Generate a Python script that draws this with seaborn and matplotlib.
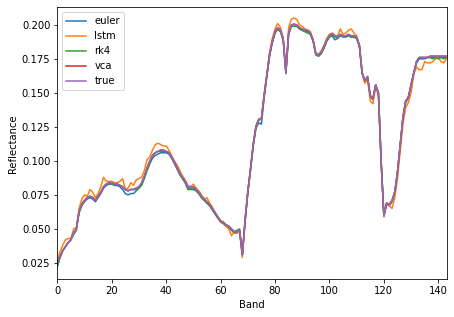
# Endmember spectra: euler / lstm / rk4 / vca vs true

import numpy as np
import matplotlib
matplotlib.use('Agg')
import matplotlib.pyplot as plt
import seaborn as sns

true = [0.025, 0.030, 0.034, 0.037, 0.040, 0.042, 0.047, 0.050, 0.063, 0.068,
        0.071, 0.073, 0.074, 0.073, 0.071, 0.074, 0.077, 0.081, 0.083, 0.084,
        0.084, 0.083, 0.083, 0.082, 0.081, 0.079, 0.078, 0.079, 0.079, 0.080,
        0.081, 0.084, 0.089, 0.095, 0.100, 0.104, 0.106, 0.107, 0.108, 0.108,
        0.107, 0.106, 0.103, 0.099, 0.095, 0.091, 0.088, 0.085, 0.081, 0.081,
        0.081, 0.079, 0.077, 0.074, 0.072, 0.070, 0.068, 0.065, 0.062, 0.059,
        0.056, 0.055, 0.053, 0.052, 0.050, 0.048, 0.048, 0.049, 0.031, 0.056,
        0.077, 0.094, 0.112, 0.125, 0.130, 0.131, 0.148, 0.163, 0.178, 0.188,
        0.195, 0.198, 0.196, 0.190, 0.165, 0.194, 0.200, 0.2005, 0.200, 0.198,
        0.197, 0.196, 0.196, 0.194, 0.189, 0.179, 0.178, 0.180, 0.184, 0.189,
        0.192, 0.1935, 0.192, 0.191, 0.193, 0.192, 0.192, 0.193, 0.192, 0.192,
        0.191, 0.185, 0.165, 0.159, 0.162, 0.148, 0.146, 0.156, 0.150, 0.100,
        0.060, 0.069, 0.068, 0.071, 0.077, 0.092, 0.112, 0.132, 0.144, 0.147,
        0.156, 0.165, 0.173, 0.176, 0.176, 0.176, 0.176, 0.177, 0.177, 0.177,
        0.177, 0.177, 0.177, 0.177]

vca = [0.025, 0.030, 0.034, 0.037, 0.040, 0.042, 0.047, 0.050, 0.063, 0.068,
       0.071, 0.073, 0.074, 0.073, 0.071, 0.074, 0.077, 0.081, 0.083, 0.084,
       0.084, 0.083, 0.083, 0.082, 0.081, 0.079, 0.078, 0.079, 0.079, 0.080,
       0.081, 0.084, 0.089, 0.095, 0.100, 0.104, 0.106, 0.107, 0.108, 0.108,
       0.107, 0.106, 0.103, 0.099, 0.095, 0.091, 0.088, 0.085, 0.081, 0.081,
       0.081, 0.079, 0.077, 0.074, 0.072, 0.070, 0.068, 0.065, 0.062, 0.059,
       0.056, 0.055, 0.053, 0.052, 0.050, 0.048, 0.048, 0.049, 0.031, 0.056,
       0.077, 0.094, 0.112, 0.125, 0.130, 0.131, 0.148, 0.163, 0.178, 0.188,
       0.195, 0.198, 0.196, 0.190, 0.165, 0.194, 0.200, 0.2005, 0.200, 0.198,
       0.197, 0.196, 0.196, 0.194, 0.189, 0.179, 0.178, 0.180, 0.184, 0.189,
       0.192, 0.1935, 0.192, 0.191, 0.193, 0.192, 0.192, 0.193, 0.192, 0.192,
       0.191, 0.185, 0.165, 0.159, 0.162, 0.148, 0.146, 0.156, 0.150, 0.100,
       0.060, 0.069, 0.068, 0.071, 0.077, 0.092, 0.112, 0.132, 0.144, 0.147,
       0.156, 0.165, 0.173, 0.176, 0.176, 0.176, 0.176, 0.177, 0.177, 0.177,
       0.177, 0.177, 0.177, 0.177]

euler = [0.023, 0.029, 0.034, 0.037, 0.040, 0.042, 0.046, 0.049, 0.062, 0.067,
         0.070, 0.072, 0.073, 0.072, 0.070, 0.073, 0.076, 0.080, 0.082, 0.083,
         0.083, 0.082, 0.082, 0.081, 0.079, 0.076, 0.075, 0.076, 0.076, 0.078,
         0.080, 0.083, 0.088, 0.093, 0.098, 0.102, 0.104, 0.105, 0.106, 0.106,
         0.106, 0.105, 0.102, 0.098, 0.094, 0.090, 0.087, 0.084, 0.079, 0.079,
         0.079, 0.078, 0.076, 0.073, 0.071, 0.069, 0.067, 0.064, 0.061, 0.058,
         0.055, 0.054, 0.052, 0.051, 0.049, 0.047, 0.047, 0.048, 0.031, 0.055,
         0.076, 0.093, 0.111, 0.124, 0.128, 0.127, 0.146, 0.162, 0.177, 0.187,
         0.194, 0.197, 0.195, 0.189, 0.165, 0.193, 0.199, 0.199, 0.199, 0.197,
         0.196, 0.195, 0.195, 0.193, 0.188, 0.178, 0.177, 0.179, 0.183, 0.188,
         0.191, 0.192, 0.189, 0.190, 0.192, 0.191, 0.191, 0.192, 0.191, 0.191,
         0.190, 0.184, 0.164, 0.158, 0.161, 0.147, 0.145, 0.155, 0.149, 0.099,
         0.059, 0.068, 0.067, 0.070, 0.076, 0.091, 0.111, 0.131, 0.143, 0.146,
         0.155, 0.164, 0.172, 0.175, 0.175, 0.175, 0.176, 0.176, 0.176, 0.176,
         0.176, 0.176, 0.176, 0.176]

lstm = [0.027, 0.033, 0.038, 0.042, 0.043, 0.043, 0.050, 0.051, 0.065, 0.072,
        0.075, 0.074, 0.079, 0.077, 0.073, 0.076, 0.081, 0.088, 0.085, 0.085,
        0.085, 0.084, 0.084, 0.085, 0.087, 0.079, 0.080, 0.084, 0.082, 0.086,
        0.087, 0.088, 0.093, 0.101, 0.103, 0.108, 0.112, 0.113, 0.112, 0.111,
        0.111, 0.108, 0.104, 0.100, 0.097, 0.093, 0.089, 0.086, 0.082, 0.081,
        0.083, 0.080, 0.078, 0.075, 0.072, 0.073, 0.069, 0.066, 0.062, 0.058,
        0.055, 0.054, 0.052, 0.050, 0.045, 0.048, 0.047, 0.048, 0.029, 0.058,
        0.078, 0.095, 0.113, 0.126, 0.131, 0.131, 0.149, 0.164, 0.180, 0.190,
        0.197, 0.201, 0.198, 0.190, 0.165, 0.198, 0.204, 0.205, 0.204, 0.200,
        0.199, 0.197, 0.196, 0.195, 0.189, 0.179, 0.178, 0.181, 0.185, 0.190,
        0.193, 0.194, 0.192, 0.192, 0.197, 0.193, 0.194, 0.196, 0.197, 0.194,
        0.192, 0.185, 0.165, 0.157, 0.160, 0.144, 0.142, 0.155, 0.148, 0.098,
        0.059, 0.069, 0.067, 0.065, 0.073, 0.087, 0.107, 0.127, 0.139, 0.143,
        0.150, 0.164, 0.169, 0.167, 0.167, 0.173, 0.172, 0.172, 0.173, 0.175,
        0.176, 0.173, 0.172, 0.175]

rk4 = [0.022, 0.029, 0.034, 0.037, 0.040, 0.042, 0.047, 0.050, 0.062, 0.068,
       0.071, 0.073, 0.074, 0.073, 0.071, 0.074, 0.077, 0.081, 0.083, 0.083,
       0.083, 0.083, 0.083, 0.082, 0.081, 0.079, 0.078, 0.079, 0.079, 0.079,
       0.080, 0.082, 0.087, 0.093, 0.099, 0.104, 0.106, 0.107, 0.107, 0.107,
       0.107, 0.106, 0.103, 0.099, 0.095, 0.090, 0.087, 0.084, 0.080, 0.080,
       0.080, 0.078, 0.076, 0.073, 0.071, 0.069, 0.067, 0.064, 0.061, 0.058,
       0.056, 0.054, 0.053, 0.052, 0.050, 0.048, 0.049, 0.050, 0.031, 0.056,
       0.077, 0.094, 0.112, 0.125, 0.130, 0.131, 0.148, 0.163, 0.178, 0.187,
       0.194, 0.197, 0.195, 0.189, 0.164, 0.193, 0.199, 0.199, 0.199, 0.197,
       0.196, 0.195, 0.194, 0.193, 0.188, 0.178, 0.177, 0.179, 0.183, 0.188,
       0.191, 0.193, 0.191, 0.191, 0.192, 0.192, 0.192, 0.192, 0.191, 0.191,
       0.190, 0.185, 0.165, 0.159, 0.162, 0.148, 0.146, 0.156, 0.150, 0.100,
       0.060, 0.069, 0.068, 0.071, 0.077, 0.092, 0.112, 0.132, 0.144, 0.147,
       0.156, 0.165, 0.173, 0.176, 0.176, 0.176, 0.176, 0.176, 0.175, 0.176,
       0.175, 0.176, 0.175, 0.176]

series = {'euler': euler, 'lstm': lstm, 'rk4': rk4, 'vca': vca, 'true': true}
band = np.arange(len(true))

fig, ax = plt.subplots(figsize=(454 / 72, 317 / 72), dpi=72)
fig.subplots_adjust(left=0.1262, right=0.9846, top=0.977, bottom=0.119)

colors = sns.color_palette('tab10')
for i, (name, vals) in enumerate(series.items()):
    sns.lineplot(x=band, y=vals, label=name, color=colors[i], ax=ax)

ax.set_xlim(0, 143.2)
ax.set_ylim(0.013, 0.2129)
ax.set_xlabel('Band')
ax.set_ylabel('Reflectance')
ax.legend(loc='upper left')

fig.savefig('out.png', dpi=72)
